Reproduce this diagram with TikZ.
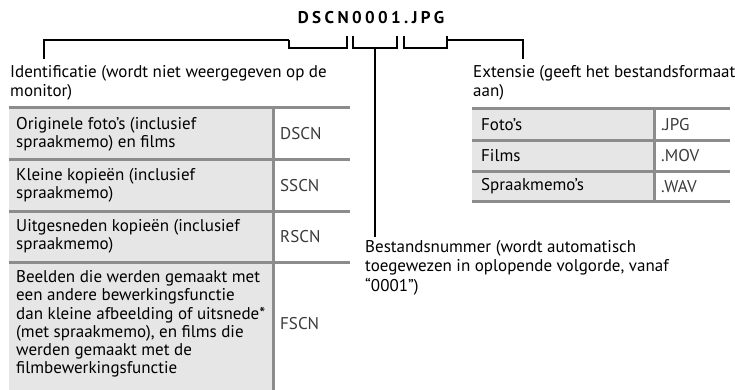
\documentclass[tikz,border=0pt]{standalone}
\usepackage{fontspec}
\setmainfont{PT Sans}
\newfontfamily\namefont{PT Sans}[LetterSpace=20]
\usetikzlibrary{positioning}
\definecolor{cRule}{HTML}{8C8C8C}
\definecolor{cCell}{HTML}{E6E6E6}
\definecolor{cCode}{HTML}{3A3A3A}

\begin{document}
\begin{tikzpicture}[x=1pt, y=-1pt,
    lbl/.style  = {anchor=north west, inner sep=0pt, align=left, font=\fontsize{17}{19.5}\selectfont},
    cell/.style = {anchor=west, inner sep=0pt, align=left, font=\fontsize{17}{18.3}\selectfont},
    code/.style = {cell, text=cCode},
    rule/.style = {draw=cRule, line width=3pt},
    lead/.style = {draw=black, line width=2pt} ]
  \useasboundingbox (0,0) rectangle (735,390);

  % file name
  \node[font=\namefont\fontsize{17}{18}\selectfont\bfseries] (name) at (371,18) {DSCN0001.JPG};

  % brackets under the name
  \coordinate (idA) at (289,40);   \coordinate (idB) at (347,36);
  \coordinate (nrA) at (353,36);   \coordinate (nrB) at (397,36);
  \coordinate (exA) at (404,36);   \coordinate (exB) at (447,36);
  \coordinate (nrMid) at (375,48); \coordinate (exJoin) at (447,40);
  \draw[lead] (idA) -- ++(0,8) -| (idB);
  \draw[lead] (nrA) -- ++(0,12) -| (nrB);
  \draw[lead] (exA) -- ++(0,12) -| (exB);

  % labels
  \node[lbl] (idLbl) at (10,65) {Identificatie (wordt niet weergegeven op de\\monitor)};
  \node[lbl] (exLbl) at (473,65) {Extensie (geeft het bestandsformaat\\aan)};
  \node[lbl] (nrLbl) at (365,240) {Bestandsnummer (wordt automatisch\\toegewezen in oplopende volgorde, vanaf\\“0001”)};
  \coordinate (idTip) at (44,59);
  \coordinate (exTip) at (523,59);
  \coordinate (nrTip) at (375,237);

  \draw[lead] (idA) -| (idTip);
  \draw[lead] (nrMid) -- (nrTip);
  \draw[lead] (exJoin) -| (exTip);

  % identification table
  \fill[cCell] (9,108) rectangle (273,390);
  \foreach \y in {108,160,211,262}
    \draw[rule] (9,\y) -- (350,\y);
  \draw[rule] (273,108) -- (273,390);

  \node[cell] (dscnTxt) at (16,134) {Originele foto's (inclusief\\spraakmemo) en films};
  \node[cell] (sscnTxt) at (16,185.5) {Kleine kopieën (inclusief\\spraakmemo)};
  \node[cell] (rscnTxt) at (16,236.5) {Uitgesneden kopieën (inclusief\\spraakmemo)};
  \node[cell] (fscnTxt) at (16,324) {Beelden die werden gemaakt met\\een andere bewerkingsfunctie\\dan kleine afbeelding of uitsnede*\\(met spraakmemo), en films die\\werden gemaakt met de\\filmbewerkingsfunctie};
  \node[code] (dscn) at (280,134) {DSCN};
  \node[code] (sscn) at (280,185.5) {SSCN};
  \node[code] (rscn) at (280,236.5) {RSCN};
  \node[code] (fscn) at (280,324) {FSCN};

  % extension table
  \fill[cCell] (472,109) rectangle (654,201.5);
  \foreach \y in {109,140.5,171,201.5}
    \draw[rule] (472,\y) -- (730,\y);
  \draw[rule] (654,109) -- (654,201.5);

  \node[cell] (jpgTxt) at (481,125) {Foto's};
  \node[cell] (movTxt) at (481,156) {Films};
  \node[cell] (wavTxt) at (481,186.5) {Spraakmemo's};
  \node[code] (jpg) at (661,125) {.JPG};
  \node[code] (mov) at (661,156) {.MOV};
  \node[code] (wav) at (661,186.5) {.WAV};
\end{tikzpicture}
\end{document}
